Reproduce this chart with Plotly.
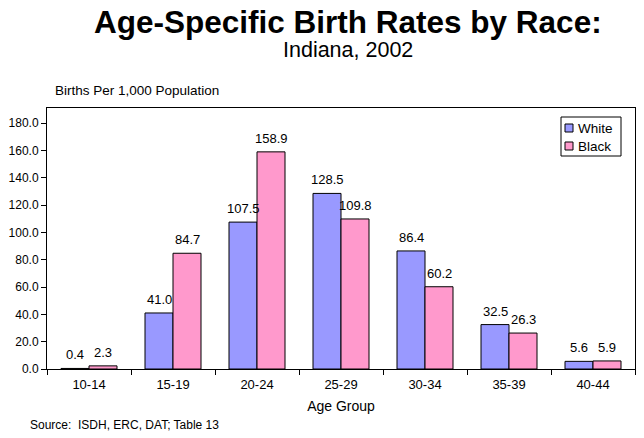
import plotly.graph_objects as go

categories = ["10-14", "15-19", "20-24", "25-29", "30-34", "35-39", "40-44"]
white = [0.4, 41.0, 107.5, 128.5, 86.4, 32.5, 5.6]
black = [2.3, 84.7, 158.9, 109.8, 60.2, 26.3, 5.9]
series_names = ["White", "Black"]
yticks = [0, 20, 40, 60, 80, 100, 120, 140, 160, 180]

FONT = "Liberation Sans, Arial, sans-serif"
WHITE_C = "#9999FF"
BLACK_C = "#FF99CC"

# The page renders the figure offset by 8px (body margin); layout is compensated.
W, H = 644, 438
L, R, T, B = 39, 17, 100, 77
PW, PH = W - L - R, H - T - B


def px(x, y):
    """figure-pixel (from top-left) -> paper coords"""
    return (x - L) / PW, (H - y - B) / PH


fig = go.Figure()
for name, vals, col in [(series_names[0], white, WHITE_C), (series_names[1], black, BLACK_C)]:
    fig.add_trace(go.Bar(name=name, x=categories, y=vals,
                         marker=dict(color=col, line=dict(color="black", width=1))))

annotations = []
# value labels above bars (bar width = 1/3 of category, offset +-half bar from category centre)
bar_px = PW / len(categories) / 3
for vals, shift in [(white, -bar_px / 2), (black, bar_px / 2)]:
    for c, v in zip(categories, vals):
        annotations.append(dict(x=c, y=v, xref="x", yref="y", text=f"{v:.1f}",
                                showarrow=False, xshift=shift, yshift=4, yanchor="bottom",
                                font=dict(size=13, family=FONT, color="black")))


def text_ann(text, x, y, size, xanchor="center"):
    xp, yp = px(x, y)
    annotations.append(dict(text=text, x=xp, y=yp, xref="paper", yref="paper", showarrow=False,
                            font=dict(size=size, family=FONT, color="black"),
                            xanchor=xanchor, yanchor="middle"))


text_ann("<b>Age-Specific Birth Rates by Race:</b>", 340, 14, 31.5)
text_ann("Indiana, 2002", 340, 42, 21.5)
text_ann("Births Per 1,000 Population", 45, 82, 13.5, "left")
text_ann("Source:  ISDH, ERC, DAT; Table 13", 20, 417, 12, "left")

# custom legend
shapes = []
bx0, by0, bx1, by1 = 553, 109, 613, 148
x0, y0 = px(bx0, by0)
x1, y1 = px(bx1, by1)
shapes.append(dict(type="rect", xref="paper", yref="paper", x0=x0, y0=y1, x1=x1, y1=y0,
                   line=dict(color="black", width=1), fillcolor="white", layer="above"))
for i, (name, col) in enumerate([(series_names[0], WHITE_C), (series_names[1], BLACK_C)]):
    cy = 120 + i * 18
    sx0, sy0 = px(557, cy - 4)
    sx1, sy1 = px(565, cy + 4)
    shapes.append(dict(type="rect", xref="paper", yref="paper", x0=sx0, y0=sy1, x1=sx1, y1=sy0,
                       line=dict(color="black", width=1), fillcolor=col, layer="above"))
    text_ann(name, 568, cy, 13.5, "left")

fig.update_layout(
    width=W, height=H,
    margin=dict(l=L, r=R, t=T, b=B),
    paper_bgcolor="white", plot_bgcolor="white",
    barmode="group", bargap=1 / 3, bargroupgap=0,
    font=dict(family=FONT, size=12, color="black"),
    showlegend=False,
    xaxis=dict(showline=True, linecolor="black", linewidth=1, mirror=True,
               ticks="outside", ticklen=5, tickcolor="black", tickson="boundaries",
               ticklabelstandoff=3, automargin=False,
               tickfont=dict(size=13), title=dict(text="Age Group", font=dict(size=14), standoff=10)),
    yaxis=dict(range=[0, 191], tickvals=yticks, tickformat=".1f",
               showline=True, linecolor="black", linewidth=1, mirror=True,
               ticks="outside", ticklen=5, tickcolor="black", showgrid=False,
               zeroline=False, tickfont=dict(size=12), automargin=False),
    annotations=annotations,
    shapes=shapes,
)

fig.write_html("out.html")
